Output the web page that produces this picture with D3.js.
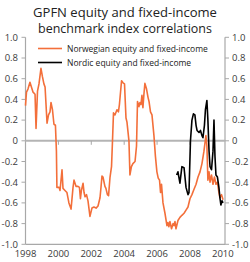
<!DOCTYPE html>
<html><head><meta charset="utf-8">
<script src="https://cdn.jsdelivr.net/npm/d3@7"></script>
<style>
html,body{margin:0;padding:0;background:#fff;}
svg{display:block;font-family:"Open Sans",sans-serif;}
</style></head>
<body><svg id="c" width="250" height="262"></svg>
<script>
const titleLines = ["GPFN equity and fixed-income", "benchmark index correlations"];
const seriesNames = ["Norwegian equity and fixed-income", "Nordic equity and fixed-income"];
const seriesColors = ["#f36f3a", "#000000"];
const yTicks = [1.0, 0.8, 0.6, 0.4, 0.2, 0, -0.2, -0.4, -0.6, -0.8, -1.0];
const yTickLabels = ["1.0","0.8","0.6","0.4","0.2","0","-0.2","-0.4","-0.6","-0.8","-1.0"];
const xTicks = [1998, 2000, 2002, 2004, 2006, 2008, 2010];

const norDates = [1998.00,1998.06,1998.15,1998.27,1998.36,1998.46,1998.58,1998.64,1998.73,1998.82,1998.94,1999.03,1999.12,1999.19,1999.31,1999.40,1999.49,1999.55,1999.64,1999.73,1999.82,1999.88,1999.91,2000.04,2000.10,2000.22,2000.28,2000.40,2000.52,2000.64,2000.77,2000.89,2000.95,2001.07,2001.19,2001.28,2001.34,2001.40,2001.50,2001.56,2001.62,2001.71,2001.80,2001.92,2002.04,2002.16,2002.29,2002.41,2002.53,2002.59,2002.65,2002.71,2002.83,2002.89,2002.98,2003.05,2003.14,2003.23,2003.29,2003.35,2003.44,2003.56,2003.65,2003.71,2003.84,2003.93,2004.02,2004.11,2004.17,2004.29,2004.35,2004.44,2004.53,2004.66,2004.75,2004.81,2004.90,2004.96,2005.02,2005.08,2005.14,2005.20,2005.26,2005.36,2005.45,2005.51,2005.60,2005.69,2005.81,2005.90,2005.99,2006.07,2006.15,2006.21,2006.27,2006.36,2006.48,2006.60,2006.66,2006.72,2006.78,2006.88,2006.97,2007.03,2007.09,2007.15,2007.27,2007.39,2007.51,2007.64,2007.76,2007.88,2008.00,2008.12,2008.24,2008.37,2008.49,2008.61,2008.73,2008.85,2008.97,2009.03,2009.09,2009.16,2009.22,2009.31,2009.40,2009.49,2009.58,2009.67,2009.76,2009.82,2009.92,2010.01];
const norValues = [0.34,0.47,0.50,0.565,0.52,0.47,0.45,0.12,0.48,0.55,0.70,0.62,0.55,0.52,0.17,0.25,0.28,0.37,0.30,0.16,0.15,-0.10,-0.45,-0.45,-0.48,-0.28,-0.46,-0.48,-0.50,-0.60,-0.66,-0.45,-0.38,-0.44,-0.44,-0.45,-0.56,-0.48,-0.41,-0.50,-0.54,-0.52,-0.58,-0.73,-0.65,-0.64,-0.65,-0.63,-0.55,-0.45,-0.34,-0.35,-0.44,-0.46,-0.52,-0.53,-0.35,-0.25,0.00,0.27,0.25,0.30,0.28,0.35,0.58,0.56,0.55,0.22,0.18,0.00,-0.33,-0.25,-0.22,-0.20,-0.05,0.38,0.33,0.37,0.35,0.44,0.32,0.45,0.555,0.50,0.42,0.38,0.28,0.25,0.05,-0.15,-0.30,-0.36,-0.38,-0.50,-0.42,-0.60,-0.70,-0.82,-0.79,-0.83,-0.78,-0.85,-0.80,-0.82,-0.78,-0.85,-0.77,-0.74,-0.72,-0.70,-0.67,-0.64,-0.56,-0.52,-0.47,-0.42,-0.35,-0.30,-0.22,-0.10,0.05,-0.05,-0.38,-0.30,-0.40,-0.33,-0.42,-0.35,-0.42,-0.40,-0.50,-0.55,-0.52,-0.57];

const ndcDates = [2007.19,2007.27,2007.39,2007.51,2007.64,2007.76,2007.88,2007.94,2008.03,2008.12,2008.21,2008.30,2008.37,2008.43,2008.55,2008.64,2008.73,2008.79,2008.88,2008.94,2009.03,2009.09,2009.16,2009.22,2009.31,2009.40,2009.46,2009.52,2009.58,2009.67,2009.76,2009.82,2009.88,2009.95,2010.01];
const ndcValues = [-0.33,-0.30,-0.41,-0.25,-0.26,-0.45,-0.52,-0.50,0.00,0.20,0.26,0.25,0.15,0.10,0.08,0.10,0.05,0.03,0.15,0.30,0.39,0.20,-0.10,-0.25,-0.28,-0.10,0.20,-0.15,-0.33,-0.35,-0.45,-0.55,-0.62,-0.58,-0.60];

const svg = d3.select("#c");
const x = d3.scaleLinear().domain([1998, 2010.13]).range([25.5, 225]);
const y = d3.scaleLinear().domain([-1, 1]).range([244.3, 37.3]);
const axisCol = "#a8a8a8", textCol = "#3a3a3a";

// title
function fitText(sel, target) {
  const w = sel.node().getComputedTextLength();
  const fs = parseFloat(sel.attr("font-size"));
  sel.attr("font-size", (fs * target / w).toFixed(2));
}
const t1 = svg.append("text").attr("x", 125).attr("y", 17).attr("text-anchor", "middle")
  .attr("font-size", 15).attr("fill", "#222").text(titleLines[0]);
fitText(t1, 184);
const t2 = svg.append("text").attr("x", 125).attr("y", 33).attr("text-anchor", "middle")
  .attr("font-size", 15).attr("fill", "#222").text(titleLines[1]);
fitText(t2, 174);

// axes lines
const g = svg.append("g");
g.append("line").attr("x1", x.range()[0]).attr("x2", x.range()[0]).attr("y1", y(1)).attr("y2", y(-1))
  .attr("stroke", axisCol).attr("stroke-width", 1.2);
g.append("line").attr("x1", x.range()[1]).attr("x2", x.range()[1]).attr("y1", y(1)).attr("y2", y(-1))
  .attr("stroke", axisCol).attr("stroke-width", 1.2);
g.append("line").attr("x1", x.range()[0]).attr("x2", x.range()[1]).attr("y1", y(-1)).attr("y2", y(-1))
  .attr("stroke", axisCol).attr("stroke-width", 1.2);

// y ticks left and right
yTicks.forEach((v, i) => {
  g.append("line").attr("x1", x.range()[0] - 4).attr("x2", x.range()[0]).attr("y1", y(v)).attr("y2", y(v))
    .attr("stroke", axisCol).attr("stroke-width", 1);
  g.append("line").attr("x1", x.range()[1]).attr("x2", x.range()[1] + 4).attr("y1", y(v)).attr("y2", y(v))
    .attr("stroke", axisCol).attr("stroke-width", 1);
  g.append("text").attr("x", 18).attr("y", y(v) + 3.3).attr("text-anchor", "end")
    .attr("font-size", 9.5).attr("fill", textCol).text(yTickLabels[i]);
  g.append("text").attr("x", 232).attr("y", y(v) + 3.3).attr("text-anchor", "start")
    .attr("font-size", 9.5).attr("fill", textCol).text(yTickLabels[i]);
});

// zero line
g.append("line").attr("x1", x.range()[0]).attr("x2", x.range()[1]).attr("y1", y(0)).attr("y2", y(0))
  .attr("stroke", "#b4b4b4").attr("stroke-width", 2);
xTicks.forEach(v => {
  if (v > 1998 && v < 2010) {
    g.append("line").attr("x1", x(v)).attr("x2", x(v)).attr("y1", y(0)).attr("y2", y(0) + 4)
      .attr("stroke", axisCol).attr("stroke-width", 1);
  }
  g.append("text").attr("x", x(v)).attr("y", 257).attr("text-anchor", "middle")
    .attr("font-size", 9.5).attr("fill", textCol).text(String(v));
});

// lines
const line = d3.line().x(d => x(d[0])).y(d => y(d[1]));
svg.append("path").datum(d3.zip(norDates, norValues)).attr("d", line)
  .attr("fill", "none").attr("stroke", seriesColors[0]).attr("stroke-width", 1.6).attr("stroke-linejoin", "round");
svg.append("path").datum(d3.zip(ndcDates, ndcValues)).attr("d", line)
  .attr("fill", "none").attr("stroke", seriesColors[1]).attr("stroke-width", 1.6).attr("stroke-linejoin", "round");

// legend
seriesNames.forEach((n, i) => {
  const ly = 48.5 + i * 14;
  svg.append("line").attr("x1", 38).attr("x2", 62).attr("y1", ly).attr("y2", ly)
    .attr("stroke", seriesColors[i]).attr("stroke-width", 1.6);
  const tt = svg.append("text").attr("x", 67).attr("y", ly + 3.8).attr("font-size", 11)
    .attr("fill", "#222").text(n);
  if (i === 0) fitText(tt, 141);
  else tt.attr("font-size", svg.selectAll("text").filter(function(){return this.textContent===seriesNames[0];}).attr("font-size"));
});
</script></body></html>
